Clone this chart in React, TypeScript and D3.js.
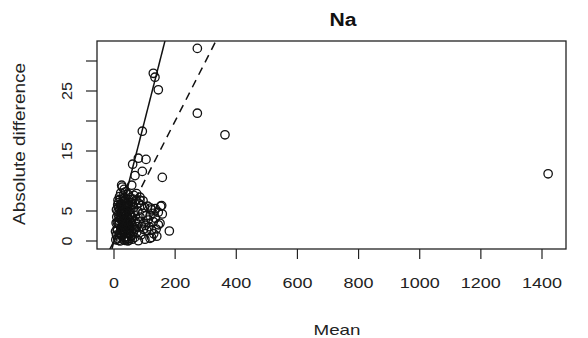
import React from "react";
import * as d3 from "d3";

const title = "Na";
const xLabel = "Mean";
const yLabel = "Absolute difference";
const xTicks = [0, 200, 400, 600, 800, 1000, 1200, 1400];
const yTicks = [0, 5, 10, 15, 20, 25, 30];
const yTickLabels = [0, 5, 15, 25];

// Mean values and absolute differences
const outlierMeans = [272.6, 128.6, 134, 145, 272.6, 363, 92.6, 79.6, 104.7, 61, 92.6, 68.7, 158, 1420];
const outlierDiffs = [32.1, 27.95, 27.3, 25.2, 21.3, 17.7, 18.3, 13.8, 13.6, 12.8, 11.6, 10.9, 10.6, 11.2];

const clusterMeans = [
  25, 27, 58, 38, 45, 30, 52, 65, 72, 20, 15, 35, 42, 60, 80, 90, 100, 110, 120, 128,
  135, 152.7, 156, 158, 123, 145, 150.5, 145, 128.6, 123, 117.8, 101, 107, 96, 79.6, 123, 181, 135, 112, 105,
  98, 90, 85, 88, 75, 70, 66, 62, 55, 50, 48, 44, 40, 36, 33, 30, 28, 25, 22, 20,
  18, 16, 14, 12, 10, 9, 8, 7, 6, 5, 12, 18, 24, 32, 38, 42, 46, 52, 58, 64,
  68, 74, 78, 82, 94, 102, 115, 118, 130, 138, 140, 60, 35, 20, 15, 45, 50, 26, 11, 8,
  30, 40, 55, 70, 85, 74, 85, 95, 14, 13, 22, 48, 62, 33, 17,
  19, 23, 29, 31, 34, 37, 39, 41, 43, 47, 49, 51, 53, 54, 56, 57, 59, 61, 63, 67,
  21, 24, 27, 29, 32, 36, 39, 44, 47, 51, 53, 56, 28, 31, 34, 37, 41, 43, 46, 49,
  16, 19, 23, 26, 29, 33, 36, 40, 45, 50, 54, 57, 11, 13, 17, 21, 25, 28, 32, 37
];
const clusterDiffs = [
  9.3, 9.0, 9.3, 8.2, 7.8, 7.5, 7.2, 7.6, 6.8, 6.9, 6.4, 6.6, 6.2, 6.0, 6.3, 5.9, 5.6, 5.8, 5.5, 4.6,
  5.4, 5.8, 5.9, 4.5, 5.2, 4.8, 2.95, 2.7, 3.2, 1.8, 0.45, 0.3, 1.8, 1.95, 0.05, 0.6, 1.67, 3.8, 3.5, 4.2,
  3.0, 2.4, 4.0, 1.0, 1.5, 3.2, 4.8, 2.0, 0.8, 3.6, 5.0, 2.6, 0.5, 4.2, 1.7, 3.0, 5.4, 0.9, 2.2, 4.6,
  1.2, 3.4, 5.6, 0.4, 2.0, 4.0, 1.0, 3.0, 0.2, 1.6, 6.0, 7.4, 5.0, 6.0, 3.2, 4.4, 1.4, 2.6, 4.0, 5.6,
  0.6, 2.4, 5.0, 3.2, 4.6, 2.6, 2.4, 4.2, 1.2, 2.0, 0.8, 0.3, 0.1, 0.0, 0.1, 0.0, 1.9, 3.8, 3.1, 5.2,
  2.3, 5.6, 5.3, 4.2, 6.8, 7.9, 7.3, 6.7, 4.4, 6.8, 8.0, 6.9, 7.0, 8.6, 2.8,
  0.6, 1.1, 1.5, 2.0, 2.5, 0.7, 1.3, 1.9, 2.4, 3.0, 0.4, 1.2, 2.1, 3.3, 0.9, 1.6, 2.6, 3.9, 1.4, 2.2,
  3.6, 4.1, 4.7, 3.2, 5.1, 4.6, 5.7, 3.9, 6.1, 4.4, 5.9, 6.4, 2.7, 0.3, 3.5, 4.9, 0.2, 2.8, 6.4, 0.1,
  2.9, 5.3, 6.2, 1.8, 6.6, 4.1, 2.5, 3.3, 5.8, 1.1, 4.3, 3.0, 1.7, 4.9, 3.9, 5.8, 6.1, 4.7, 7.2, 6.9
];

const solidSlope = 0.2;
const dashedSlope = 0.1;

const W = 588;
const H = 338;
const box = { left: 97, right: 566, top: 41, bottom: 249 };
const font = "'Liberation Sans', Arial, Helvetica, sans-serif";

export default function App() {
  const x = d3.scaleLinear().domain([0, 1400]).range([114, 542]);
  const y = d3.scaleLinear().domain([0, 30]).range([241, 61]);
  const xMin = x.invert(box.left);
  const xMax = x.invert(box.right);

  const means = [...outlierMeans, ...clusterMeans];
  const diffs = [...outlierDiffs, ...clusterDiffs];

  const line = d3
    .line<number>()
    .x((d) => x(d[0]))
    .y((d) => y(d[1]));

  const solidPts: any = [[xMin, xMin * solidSlope], [xMax, xMax * solidSlope]];
  const dashedPts: any = [[xMin, xMin * dashedSlope], [xMax, xMax * dashedSlope]];

  return (
    <svg width={W} height={H} style={{ position: "absolute", left: 0, top: 0, background: "#fff" }}>
      <defs>
        <clipPath id="plotclip">
          <rect x={box.left} y={box.top} width={box.right - box.left} height={box.bottom - box.top} />
        </clipPath>
      </defs>
      <rect x={0} y={0} width={W} height={H} fill="#fff" />
      <g clipPath="url(#plotclip)">
        {means.map((m, i) => (
          <circle key={i} cx={x(m)} cy={y(diffs[i])} r={4.2} fill="none" stroke="#111" strokeWidth={1.3} />
        ))}
        <path d={line(solidPts) || ""} stroke="#111" strokeWidth={1.5} fill="none" />
        <path d={line(dashedPts) || ""} stroke="#111" strokeWidth={1.5} fill="none" strokeDasharray="8,6" />
      </g>
      <rect
        x={box.left}
        y={box.top}
        width={box.right - box.left}
        height={box.bottom - box.top}
        fill="none"
        stroke="#222"
        strokeWidth={1.3}
      />
      {xTicks.map((t) => (
        <g key={"x" + t}>
          <line x1={x(t)} x2={x(t)} y1={box.bottom} y2={box.bottom + 10} stroke="#222" strokeWidth={1.2} />
          <text
            x={x(t)}
            y={288}
            textAnchor="middle"
            fontFamily={font}
            fontSize={14}
            fill="#222"
            textLength={String(t).length * 10}
            lengthAdjust="spacingAndGlyphs"
          >
            {t}
          </text>
        </g>
      ))}
      {yTicks.map((t) => (
        <line key={"y" + t} x1={box.left - 11} x2={box.left} y1={y(t)} y2={y(t)} stroke="#222" strokeWidth={1.2} />
      ))}
      {yTickLabels.map((t) => (
        <text
          key={"yl" + t}
          transform={`translate(71.5,${y(t)}) rotate(-90)`}
          textAnchor="middle"
          fontFamily={font}
          fontSize={14}
          fill="#222"
          textLength={String(t).length * 9}
          lengthAdjust="spacingAndGlyphs"
        >
          {t}
        </text>
      ))}
      <text
        x={343}
        y={26}
        textAnchor="middle"
        fontFamily={font}
        fontWeight="bold"
        fontSize={18}
        fill="#111"
        textLength={27}
        lengthAdjust="spacingAndGlyphs"
      >
        {title}
      </text>
      <text
        x={337}
        y={334.5}
        textAnchor="middle"
        fontFamily={font}
        fontSize={15}
        fill="#222"
        textLength={47}
        lengthAdjust="spacingAndGlyphs"
      >
        {xLabel}
      </text>
      <text
        transform={`translate(25,144) rotate(-90)`}
        textAnchor="middle"
        fontFamily={font}
        fontSize={17}
        fill="#222"
        textLength={162}
        lengthAdjust="spacingAndGlyphs"
      >
        {yLabel}
      </text>
    </svg>
  );
}
